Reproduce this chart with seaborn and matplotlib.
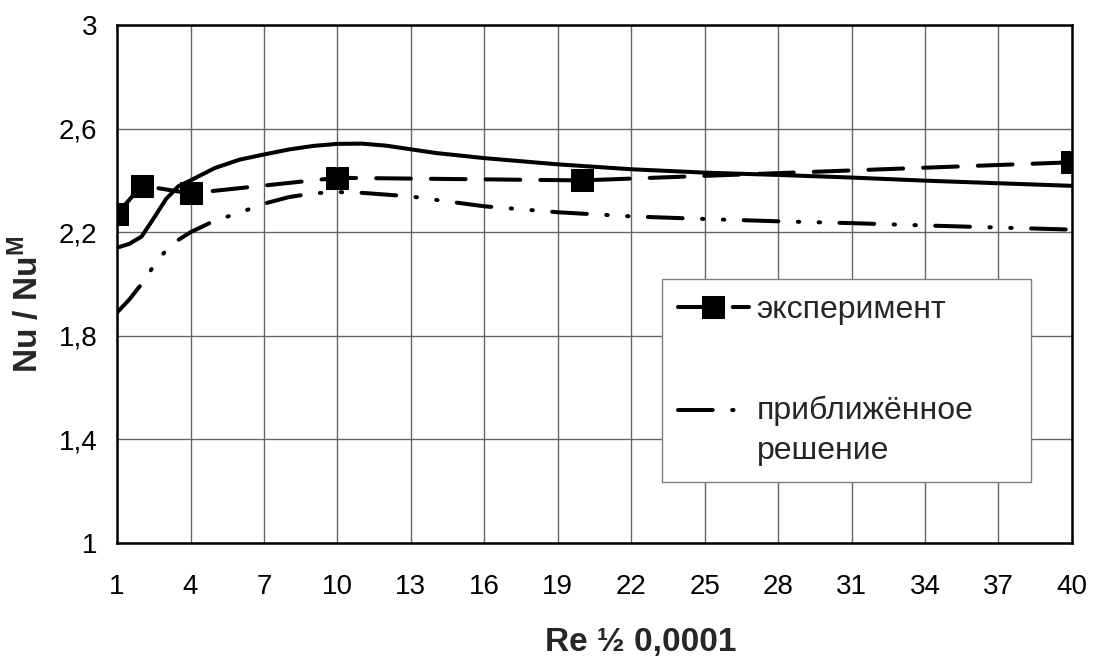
import matplotlib
matplotlib.use("Agg")
import matplotlib.pyplot as plt
import seaborn as sns
from matplotlib.legend_handler import HandlerLine2D

# experiment points
re_exp = [1, 2, 4, 10, 20, 40]
nu_exp = [2.27, 2.38, 2.35, 2.41, 2.40, 2.47]

# solid curve (no legend entry)
re_solid = [1, 1.5, 2, 2.5, 3, 3.5, 4, 5, 6, 7, 8, 9, 10, 11, 12, 13, 14, 16, 19, 22, 25, 28, 31, 34, 37, 40]
nu_solid = [2.14, 2.155, 2.183, 2.254, 2.328, 2.377, 2.40, 2.448, 2.48, 2.50, 2.519, 2.533, 2.541, 2.542,
            2.534, 2.52, 2.506, 2.486, 2.462, 2.443, 2.430, 2.421, 2.411, 2.399, 2.389, 2.379]

# approximate solution
re_appr = [1, 1.5, 2, 2.5, 3, 3.5, 4, 5, 6, 7, 8, 9, 10, 11, 12, 13, 14, 16, 19, 22, 25, 28, 31, 34, 37, 40]
nu_appr = [1.89, 1.94, 2.0, 2.07, 2.13, 2.17, 2.20, 2.245, 2.275, 2.31, 2.335, 2.35, 2.355, 2.352,
           2.345, 2.338, 2.325, 2.30, 2.277, 2.261, 2.251, 2.242, 2.235, 2.226, 2.218, 2.21]

x_ticks = list(range(1, 41, 3))
y_ticks = [1, 1.4, 1.8, 2.2, 2.6, 3]
y_tick_labels = ["1", "1,4", "1,8", "2,2", "2,6", "3"]


class TopHandler(HandlerLine2D):
    """Put the handle next to the first line of a two-line label."""
    def __init__(self, shift, **kw):
        super().__init__(**kw)
        self.shift = shift

    def create_artists(self, legend, orig_handle, xdescent, ydescent, width, height, fontsize, trans):
        return super().create_artists(legend, orig_handle, xdescent, ydescent - 2 * self.shift,
                                      width, height, fontsize, trans)


sns.set_style("white")
plt.rcParams["font.family"] = ["Liberation Sans", "DejaVu Sans"]
plt.rcParams["mathtext.fontset"] = "custom"
plt.rcParams["mathtext.bf"] = "Liberation Sans:bold"
plt.rcParams["mathtext.rm"] = "Liberation Sans"
plt.rcParams["lines.scale_dashes"] = False

fig, ax = plt.subplots(figsize=(10.96, 6.65), dpi=100)
fig.subplots_adjust(left=0.1068, right=0.978, bottom=0.1835, top=0.9624)

lw = 2.9
sns.lineplot(x=re_solid, y=nu_solid, ax=ax, color="black", linewidth=lw, legend=False, zorder=3)
appr_line = sns.lineplot(x=re_appr, y=nu_appr, ax=ax, color="black", linewidth=lw,
                         linestyle=(0, (25, 14, 1, 14, 1, 14)),
                         legend=False, zorder=3).lines[-1]
exp_line = sns.lineplot(x=re_exp, y=nu_exp, ax=ax, color="black", linewidth=lw,
                        linestyle=(0, (25, 14.4)),
                        marker="s", markersize=16, markerfacecolor="black", markeredgecolor="black",
                        legend=False, zorder=4).lines[-1]
for ln in ax.lines:
    ln.set_dash_capstyle("round")
    ln.set_solid_capstyle("round")

ax.set_xlim(1, 40)
ax.set_ylim(1, 3)
ax.set_xticks(x_ticks)
ax.set_xticklabels([str(t) for t in x_ticks])
ax.set_yticks(y_ticks)
ax.set_yticklabels(y_tick_labels)
ax.tick_params(axis="both", length=0, labelsize=20, colors="black")
ax.tick_params(axis="x", pad=22)
ax.tick_params(axis="y", pad=14)

ax.grid(True, color="#666666", linewidth=1)
for s in ax.spines.values():
    s.set_visible(True)
    s.set_color("black")
    s.set_linewidth(1.8)

ax.set_xlabel("Re ½ 0,0001", fontsize=24, fontweight="bold")
ax.set_ylabel(r"Nu / Nu$^{\mathbf{M}}$", fontsize=24, fontweight="bold")
ax.xaxis.label.set_va("center")
ax.xaxis.set_label_coords(0.548, -0.192)
ax.yaxis.set_label_coords(-0.075, 0.46)

leg = ax.legend([exp_line, appr_line], ["эксперимент", "приближённое\nрешение"],
                loc="upper left", bbox_to_anchor=(0.571, 0.1255, 0.386, 0.3842),
                mode="expand", borderaxespad=0, fontsize=23, frameon=True, fancybox=False,
                framealpha=1, edgecolor="#808080", borderpad=0.5, labelspacing=2.2,
                handlelength=2.2, handletextpad=0.25,
                handler_map={appr_line: TopHandler(15)})
leg.get_frame().set_linewidth(1)
leg.get_texts()[1].set_linespacing(1.45)

fig.savefig("out.png", dpi=100)
